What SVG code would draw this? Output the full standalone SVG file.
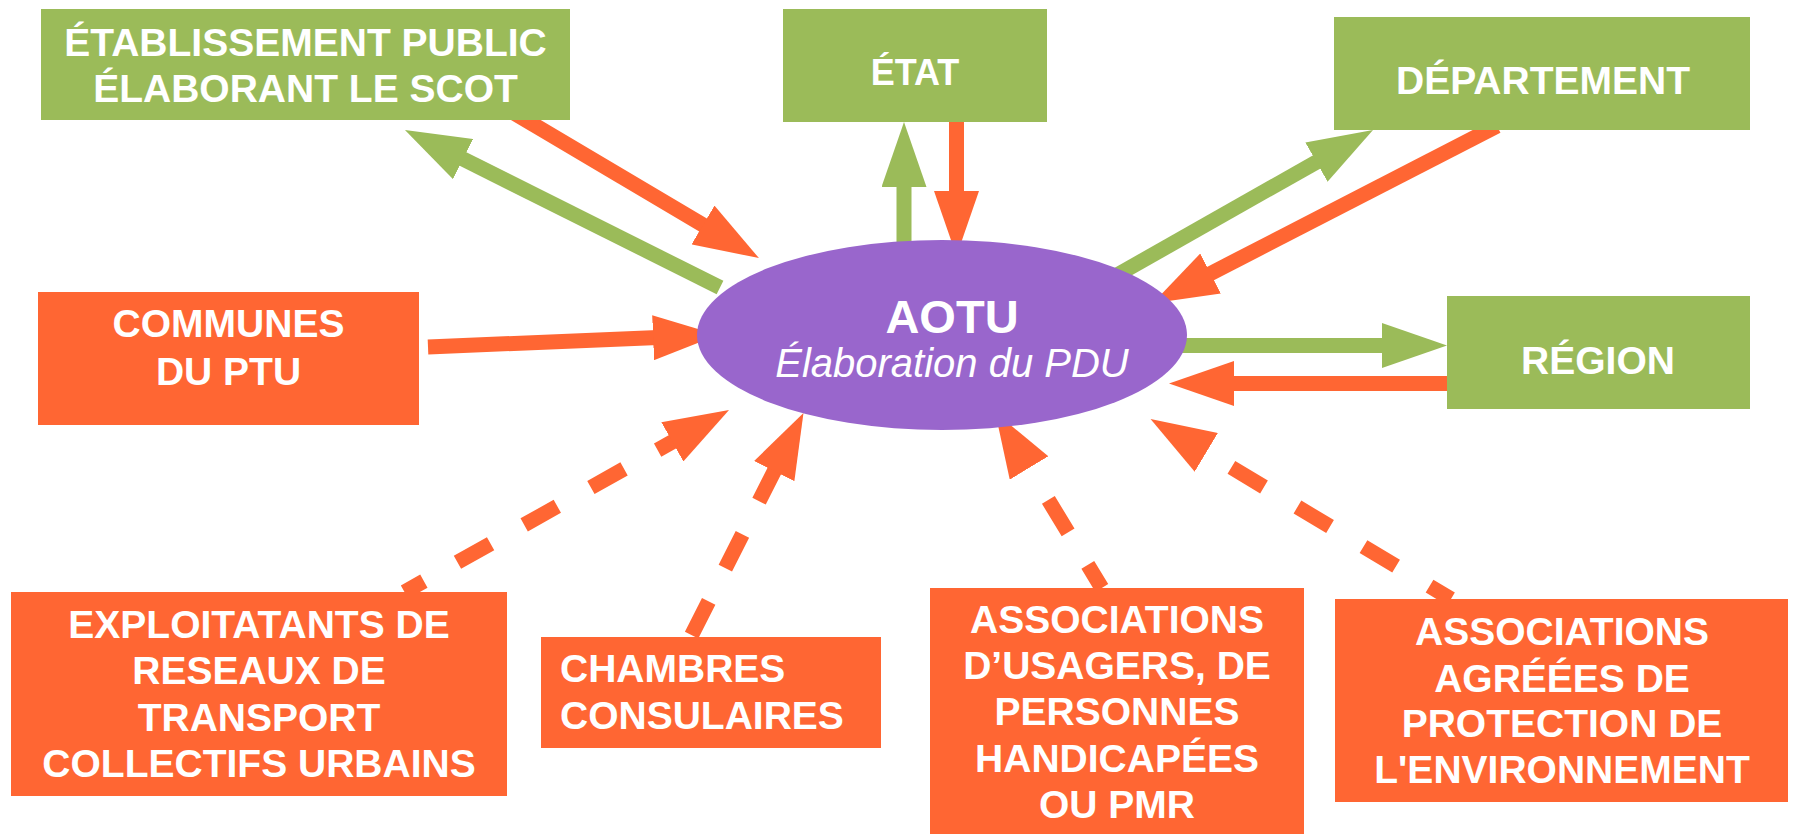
<svg xmlns="http://www.w3.org/2000/svg" width="1793" height="834" viewBox="0 0 1793 834">
<style>
.g{fill:#9BBB59}
.o{fill:#FF6633}
.t{font-family:"Liberation Sans",Arial,sans-serif;font-weight:bold;font-size:39px;fill:#fff;text-anchor:middle}
.cg{stroke:#9BBB59;stroke-width:15;fill:none;marker-end:url(#mg)}
.co{stroke:#FF6633;stroke-width:15;fill:none;marker-end:url(#mo)}
</style>
<defs>
<marker id="mg" markerUnits="userSpaceOnUse" markerWidth="65" markerHeight="45" refX="5" refY="22.5" orient="auto"><path d="M0,0 L65,22.5 L0,45 z" fill="#9BBB59"/></marker>
<marker id="mo" markerUnits="userSpaceOnUse" markerWidth="65" markerHeight="45" refX="5" refY="22.5" orient="auto"><path d="M0,0 L65,22.5 L0,45 z" fill="#FF6633"/></marker>
</defs>
<rect width="1793" height="834" fill="#fff"/>
<g id="connectors">
<path class="co" d="M509,110 L707.3,227.5"/>
<path class="cg" d="M720,287.5 L458.6,156.8"/>
<path class="cg" d="M904,250 L904,182"/>
<path class="co" d="M956.5,119 L956.5,196"/>
<path class="co" d="M428,347 L658.1,337.5"/>
<path class="cg" d="M1110,279 L1320.8,159.6"/>
<path class="co" d="M1497,126 L1206.1,275.8"/>
<path class="cg" d="M1180,345.5 L1387,345.5"/>
<path class="co" d="M1450,383.5 L1229,383.5"/>
<path class="co" d="M404.5,592 L676.7,439.4" stroke-dasharray="38 38.5" stroke-dashoffset="15.8"/>
<path class="co" d="M690.7,637 L776.5,466.6" stroke-dasharray="38 37" stroke-dashoffset="73"/>
<path class="co" d="M1101.8,588 L1026.4,463.7" stroke-dasharray="38 38" stroke-dashoffset="11"/>
<path class="co" d="M1451,599 L1202,449.8" stroke-dasharray="38 39" stroke-dashoffset="13"/>
</g>
<g id="etab"><rect class="g" x="41" y="9" width="529" height="111"/><text class="t" x="305.5" y="56">ÉTABLISSEMENT PUBLIC</text><text class="t" x="305.5" y="102">ÉLABORANT LE SCOT</text></g>
<g id="etat"><rect class="g" x="783" y="9" width="264" height="113"/><text class="t" x="915" y="85" style="font-size:36px">ÉTAT</text></g>
<g id="departement"><rect class="g" x="1334" y="17" width="416" height="113"/><text class="t" x="1543" y="94">DÉPARTEMENT</text></g>
<g id="region"><rect class="g" x="1447" y="296" width="303" height="113"/><text class="t" x="1598" y="374">RÉGION</text></g>
<g id="communes"><rect class="o" x="38" y="292" width="381" height="133"/><text class="t" x="228.5" y="337">COMMUNES</text><text class="t" x="228.5" y="385">DU PTU</text></g>
<g id="exploitants"><rect class="o" x="11" y="592" width="496" height="204"/><text class="t" x="259" y="638">EXPLOITATANTS DE</text><text class="t" x="259" y="684">RESEAUX DE</text><text class="t" x="259" y="731">TRANSPORT</text><text class="t" x="259" y="777">COLLECTIFS URBAINS</text></g>
<g id="chambres"><rect class="o" x="541" y="637" width="340" height="111"/><text class="t" x="560" y="682" style="text-anchor:start">CHAMBRES</text><text class="t" x="560" y="729" style="text-anchor:start">CONSULAIRES</text></g>
<g id="usagers"><rect class="o" x="930" y="588" width="374" height="246"/><text class="t" x="1117" y="633">ASSOCIATIONS</text><text class="t" x="1117" y="679">D’USAGERS, DE</text><text class="t" x="1117" y="725">PERSONNES</text><text class="t" x="1117" y="772">HANDICAPÉES</text><text class="t" x="1117" y="818">OU PMR</text></g>
<g id="environnement"><rect class="o" x="1335" y="599" width="453" height="203"/><text class="t" x="1562" y="645">ASSOCIATIONS</text><text class="t" x="1562" y="692">AGRÉÉES DE</text><text class="t" x="1562" y="737">PROTECTION DE</text><text class="t" x="1562" y="783">L'ENVIRONNEMENT</text></g>
<g id="aotu"><ellipse cx="942" cy="335" rx="245" ry="95" fill="#9966CC"/><text class="t" x="952" y="333" style="font-size:47px">AOTU</text><text class="t" x="952" y="377" style="font-weight:normal;font-style:italic;font-size:40px">Élaboration du PDU</text></g>
</svg>
